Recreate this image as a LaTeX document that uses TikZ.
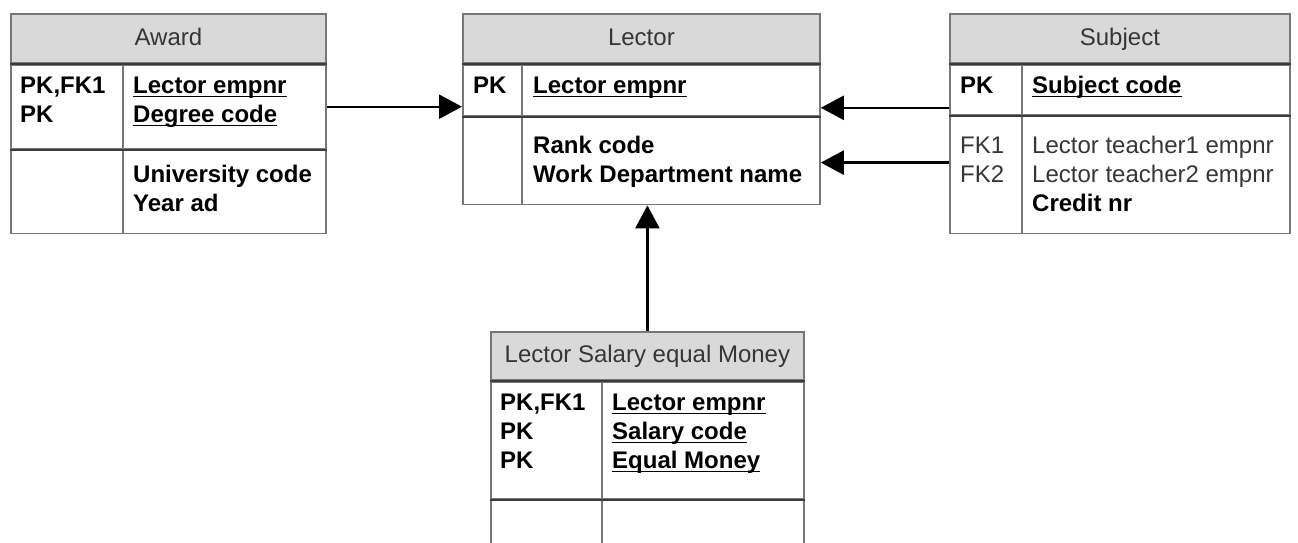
\documentclass[tikz,border=0pt]{standalone}
\usepackage{fontspec}
\setmainfont{Liberation Sans}
\usetikzlibrary{arrows.meta,positioning}
\definecolor{Frame}{HTML}{777777}
\definecolor{Head}{HTML}{D9D9D9}
\definecolor{Rule}{HTML}{3C3C3C}
\definecolor{Ink}{HTML}{202020}
\newcommand{\erfont}{\fontsize{24}{29}\selectfont}
\newsavebox{\keybox}
\newcommand{\keyname}[1]{\sbox{\keybox}{#1}\rlap{\rule[-4.4pt]{\wd\keybox}{1.6pt}}\usebox{\keybox}}
\newcommand{\lines}[1]{\begin{tabular}[t]{@{}l@{}}#1\end{tabular}}

\tikzset{
  tblhead/.style={draw=Frame,fill=Head,line width=1.8pt,anchor=north west,
    inner sep=0pt,minimum height=49pt,text height=16.5pt,text depth=3pt,
    font=\erfont,text=Ink!90},
  tblpart/.style={draw=Frame,line width=1.8pt,anchor=north west,inner sep=0pt},
  cell/.style={anchor=base west,inner sep=0pt,font=\erfont,text=Ink!90},
  boldcell/.style={cell,font=\erfont\bfseries,text=black},
  coldiv/.style={draw=Frame,line width=1.8pt},
  rowdiv/.style={draw=Rule,line width=1.8pt},
  fkarrow/.style={line width=2.4pt,-{Triangle[length=23pt,width=24pt]}}
}

\begin{document}
\begin{tikzpicture}[x=1pt,y=-1pt]
  \clip (0,0) rectangle (1298,543);

  % Award
  \node[tblhead,minimum width=315pt] (award) at (10,13) {Award};
  \node[tblpart,minimum width=315pt,minimum height=84pt] (awardkeys) at (award.south west) {};
  \node[tblpart,minimum width=315pt,minimum height=83pt] (awardattrs) at (awardkeys.south west) {};
  \draw[coldiv] ([xshift=113pt]award.south west) -- ([xshift=113pt]awardattrs.south west);
  \draw[rowdiv] (award.south west) -- (award.south east);
  \draw[rowdiv] (awardkeys.south west) -- (awardkeys.south east);
  \node[boldcell] (awardpk) at (20,93) {\lines{PK,FK1\\PK}};
  \node[boldcell] (awardkeyf) at (133,93) {\lines{\keyname{Lector empnr}\\\keyname{Degree code}}};
  \node[boldcell] (awardattrf) at (133,182) {\lines{University code\\Year ad}};

  % Lector
  \node[tblhead,minimum width=357pt] (lector) at (462,13) {Lector};
  \node[tblpart,minimum width=357pt,minimum height=51pt] (lectorkeys) at (lector.south west) {};
  \node[tblpart,minimum width=357pt,minimum height=87pt] (lectorattrs) at (lectorkeys.south west) {};
  \draw[coldiv] ([xshift=60pt]lector.south west) -- ([xshift=60pt]lectorattrs.south west);
  \draw[rowdiv] (lector.south west) -- (lector.south east);
  \draw[rowdiv] (lectorkeys.south west) -- (lectorkeys.south east);
  \node[boldcell] (lectorpk) at (473,93) {PK};
  \node[boldcell] (lectorkeyf) at (533,93) {\keyname{Lector empnr}};
  \node[boldcell] (lectorattrf) at (533,153) {\lines{Rank code\\Work Department name}};

  % Subject
  \node[tblhead,minimum width=340pt] (subject) at (949,13) {Subject};
  \node[tblpart,minimum width=340pt,minimum height=50pt] (subjkeys) at (subject.south west) {};
  \node[tblpart,minimum width=340pt,minimum height=117pt] (subjattrs) at (subjkeys.south west) {};
  \draw[coldiv] ([xshift=73pt]subject.south west) -- ([xshift=73pt]subjattrs.south west);
  \draw[rowdiv] (subject.south west) -- (subject.south east);
  \draw[rowdiv] (subjkeys.south west) -- (subjkeys.south east);
  \node[boldcell] (subjpk) at (960,93) {PK};
  \node[boldcell] (subjkeyf) at (1032,93) {\keyname{Subject code}};
  \node[cell] (subjfk) at (960,153) {\lines{FK1\\FK2}};
  \node[cell] (subjattrf) at (1032,153) {\lines{Lector teacher1 empnr\\Lector teacher2 empnr\\\textbf{\color{black}Credit nr}}};

  % Lector Salary equal Money
  \node[tblhead,minimum width=313pt,minimum height=48pt] (lsem) at (490,331) {Lector Salary equal Money};
  \node[tblpart,minimum width=313pt,minimum height=117pt] (lsemkeys) at (lsem.south west) {};
  \node[tblpart,minimum width=313pt,minimum height=100pt] (lsemattrs) at (lsemkeys.south west) {};
  \draw[coldiv] ([xshift=112pt]lsem.south west) -- ([xshift=112pt]lsemattrs.south west);
  \draw[rowdiv] (lsem.south west) -- (lsem.south east);
  \draw[rowdiv] (lsemkeys.south west) -- (lsemkeys.south east);
  \node[boldcell] (lsempk) at (500,410) {\lines{PK,FK1\\PK\\PK}};
  \node[boldcell] (lsemkeyf) at (612,410) {\lines{\keyname{Lector empnr}\\\keyname{Salary code}\\\keyname{Equal Money}}};

  % references
  \draw[fkarrow] (awardkeys.east) -- (awardkeys.east -| lectorkeys.west);
  \draw[fkarrow] ([yshift=-44pt]subjkeys.north west) coordinate (fkone) -- (fkone -| lectorkeys.east);
  \draw[fkarrow] ([yshift=-47pt]subjattrs.north west) coordinate (fktwo) -- (fktwo -| lectorattrs.east);
  \draw[fkarrow] (lsem.north) -- (lsem.north |- lectorattrs.south);
\end{tikzpicture}
\end{document}
